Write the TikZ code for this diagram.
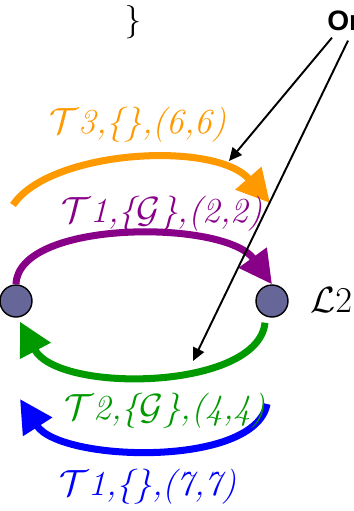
\documentclass[tikz,border=0pt]{standalone}
\usepackage{amsmath,amssymb}
\usepackage{fontspec}
\usepackage{tikz}
\usetikzlibrary{arrows.meta}
\newfontfamily\sansbold{Liberation Sans}
\definecolor{lorange}{RGB}{255,153,0}
\definecolor{lpurple}{RGB}{136,0,136}
\definecolor{lgreen}{RGB}{0,153,0}
\definecolor{lblue}{RGB}{0,0,255}
\definecolor{vfill}{RGB}{102,102,153}

\begin{document}
\begin{tikzpicture}[x=0.02cm,y=-0.02cm,
  v/.style={circle,draw,line width=0.8pt,fill=vfill,minimum size=0.64cm,inner sep=0pt},
  ed/.style={line width=4pt,-{Triangle[length=0.66cm,width=0.66cm]}},
  lb/.style={font=\fontsize{20}{24}\selectfont\itshape,inner sep=0pt},
  p/.style={-{Triangle[length=0.26cm,width=0.24cm]},line width=1.1pt}
]
\useasboundingbox (0,0) rectangle (354,511);
\node (br) at (133,22) {\fontsize{19}{22}\selectfont\}};
\node[anchor=base west,inner sep=0pt,font=\sansbold\bfseries\fontsize{16}{18}\selectfont] (or) at (327,30) {Or};
\node[v] (l) at (16,301) {};
\node[v] (r) at (272,301) {};
\node[anchor=west,inner sep=0pt] (lname) at (310,300) {\fontsize{22}{26}\selectfont$\mathcal{L}2$};
% ends of the free arcs
\coordinate (o1) at (13,205);
\coordinate (o2) at (270,203);
\coordinate (b1) at (267,404);
\coordinate (b2) at (20,399);
\coordinate (a1) at (229,161);
\coordinate (a2) at (193,361);
\node[lb,text=lorange] (t3) at (138,125) {$\mathcal{T}$3,\{\},(6,6)};
\draw[ed,lorange] (o1) .. controls (50,150) and (215,140) .. (o2);
\draw[ed,lpurple] (l.north) .. controls +(2,-65) and +(-47,-65) .. (r.north);
\node[lb,text=lpurple] (t1g) at (162,214) {$\mathcal{T}$1,\{$\mathcal{G}$\},(2,2)};
\draw[ed,lgreen] ([shift={(-7,5)}]r.south) .. controls +(-7,68) and +(38,72) .. ([shift={(4,4)}]l.south);
\draw[ed,lblue] (b1) .. controls (255,468) and (60,462) .. (b2);
\node[lb,text=lgreen] (t2g) at (165,411) {$\mathcal{T}$2,\{$\mathcal{G}$\},(4,4)};
\node[lb,text=lblue] (t1) at (148,487) {$\mathcal{T}$1,\{\},(7,7)};
\draw[p] ([shift={(5,7)}]or.south west) -- (a1);
\draw[p] ([shift={(21,10)}]or.south west) -- (a2);
\end{tikzpicture}
\end{document}
